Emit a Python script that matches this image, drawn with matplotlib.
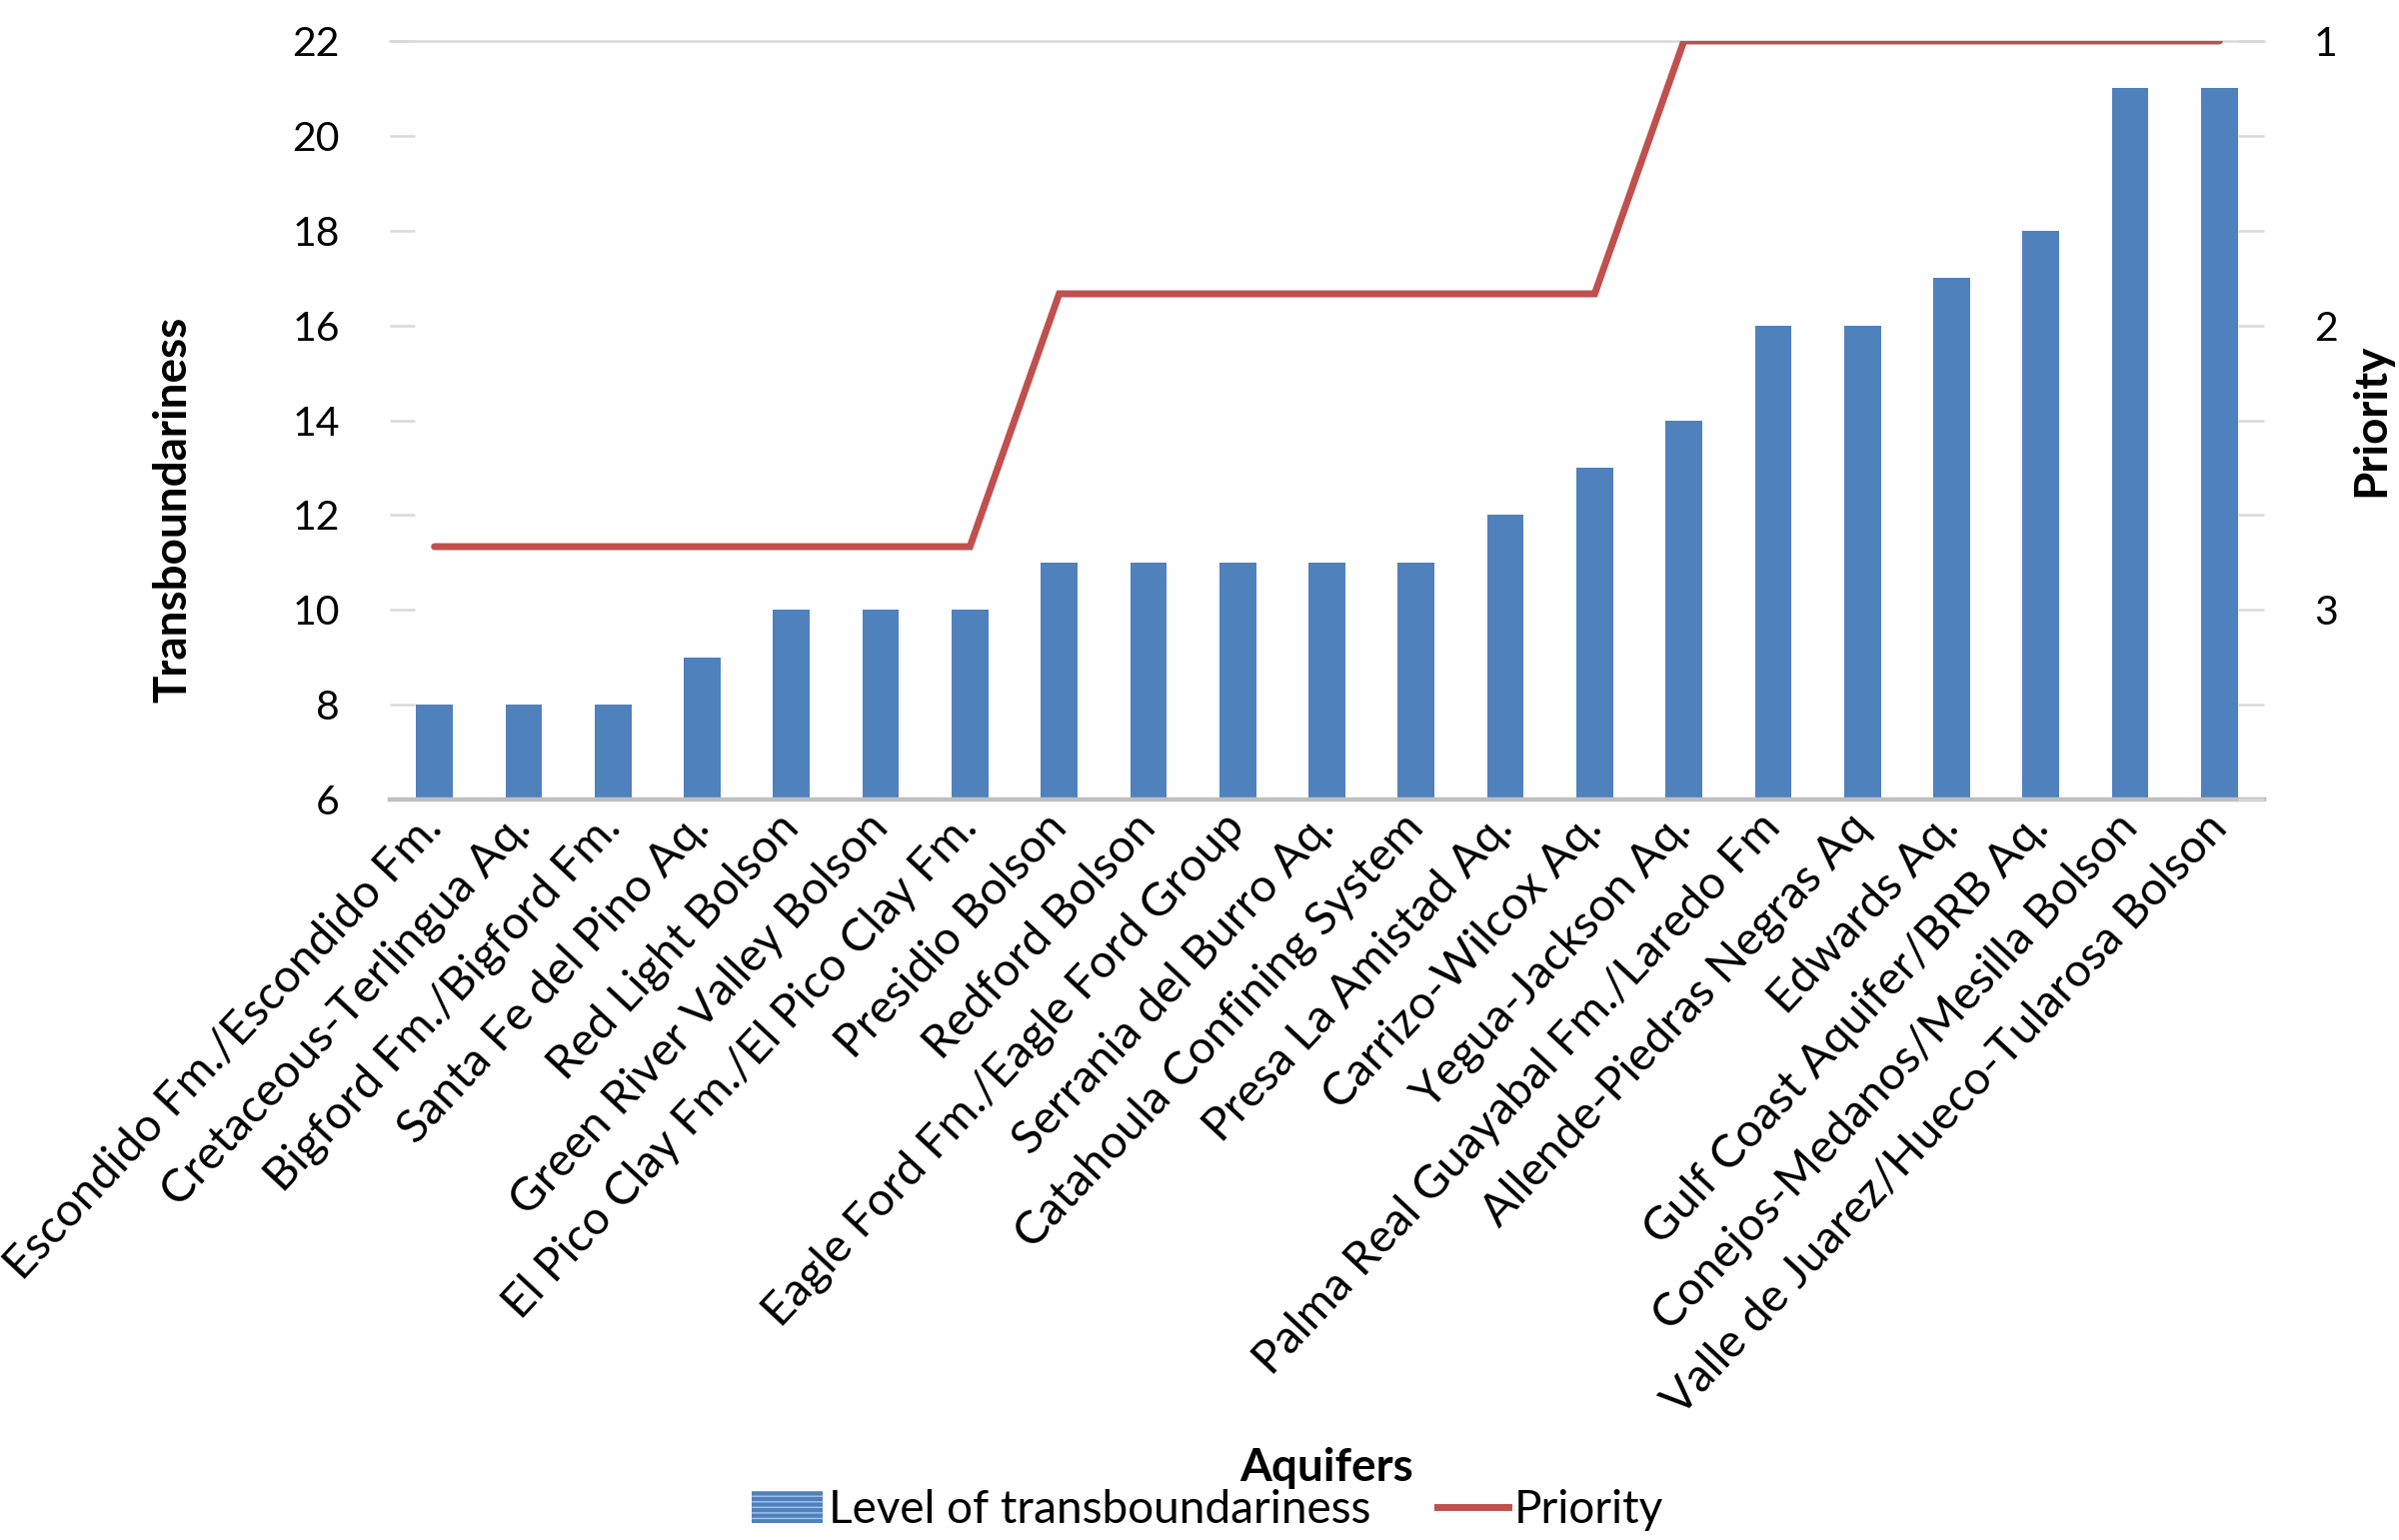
import matplotlib
matplotlib.use("Agg")
import matplotlib.pyplot as plt
from matplotlib.patches import Patch
from matplotlib.lines import Line2D

plt.rcParams['font.family'] = ['Lato', 'DejaVu Sans']

aquifers = [
    "Escondido Fm./Escondido Fm.",
    "Cretaceous-Terlingua Aq.",
    "Bigford Fm./Bigford Fm.",
    "Santa Fe del Pino Aq.",
    "Red Light Bolson",
    "Green River Valley Bolson",
    "El Pico Clay Fm./El Pico Clay Fm.",
    "Presidio Bolson",
    "Redford Bolson",
    "Eagle Ford Fm./Eagle Ford Group",
    "Serrania del Burro Aq.",
    "Catahoula Confining System",
    "Presa La Amistad Aq.",
    "Carrizo-Wilcox Aq.",
    "Yegua-Jackson Aq.",
    "Palma Real Guayabal Fm./Laredo Fm",
    "Allende-Piedras Negras Aq",
    "Edwards Aq.",
    "Gulf Coast Aquifer/BRB Aq.",
    "Conejos-Medanos/Mesilla Bolson",
    "Valle de Juarez/Hueco-Tularosa Bolson",
]
transboundariness = [8, 8, 8, 9, 10, 10, 10, 11, 11, 11, 11, 11, 12, 13, 14, 16, 16, 17, 18, 21, 21]
priority = [3, 3, 3, 3, 3, 3, 3, 2, 2, 2, 2, 2, 2, 2, 1, 1, 1, 1, 1, 1, 1]

left_ticks = [6, 8, 10, 12, 14, 16, 18, 20, 22]
right_ticks = [1.0, 1.375, 1.75, 2.125, 2.5, 2.875, 3.25, 3.625, 4.0]
right_labels = ["1", "", "", "2", "", "", "3", "", ""]

BAR = "#4F81BD"
RED = "#C0504D"
GRID = "#D9D9D9"
FS = 29.5
FS_CAT = 33.5
FS_TITLE = 33

W, H = 2400, 1541
fig = plt.figure(figsize=(W / 100, H / 100), dpi=100)
ax = fig.add_axes([390 / W, 1 - 800 / H, (2265 - 390) / W, (800 - 41) / H])

x = list(range(len(aquifers)))
ax.bar(x, transboundariness, width=0.41, bottom=0, color=BAR, zorder=2)
ax.set_ylim(6, 22)
ax.set_xlim(-0.5, len(aquifers) - 0.5)
ax.set_yticks(left_ticks)
ax.set_yticklabels([str(t) for t in left_ticks], fontsize=FS)
ax.tick_params(axis='y', direction='in', length=18, width=1.8, color=GRID, pad=36)
ax.set_xticks(x)
ax.set_xticklabels(aquifers, rotation=47, ha='right', va='center',
                   rotation_mode='anchor', fontsize=FS_CAT)
ax.tick_params(axis='x', length=0, pad=15)
for s in ['left', 'right']:
    ax.spines[s].set_visible(False)
ax.spines['top'].set_color(GRID)
ax.spines['top'].set_linewidth(1.8)
ax.spines['bottom'].set_color('#BFBFBF')
ax.spines['bottom'].set_linewidth(3.2)

ax2 = ax.twinx()
ax2.plot(x, priority, color=RED, linewidth=5, solid_capstyle='round',
         solid_joinstyle='miter', zorder=3)
ax2.set_ylim(4.0, 1.0)
ax2.set_yticks(right_ticks)
ax2.set_yticklabels(right_labels, fontsize=FS)
ax2.tick_params(axis='y', direction='in', length=19, width=1.8, color=GRID, pad=36)
for s in ['left', 'right', 'top', 'bottom']:
    ax2.spines[s].set_visible(False)

fig.text(173 / W, 1 - 510 / H, "Transboundariness", rotation=90, ha='center',
         va='center', fontsize=FS_TITLE, fontweight='bold')
fig.text(2372 / W, 1 - 420 / H, "Priority", rotation=90, ha='center',
         va='center', fontsize=FS_TITLE, fontweight='bold')
fig.text(1327 / W, 1 - 1469 / H, "Aquifers", ha='center', va='center',
         fontsize=FS_TITLE, fontweight='bold')

handles = [Patch(facecolor=BAR, edgecolor='#A9C4E8', hatch='---', linewidth=0),
           Line2D([0], [0], color=RED, linewidth=5)]
fig.legend(handles, ["Level of transboundariness", "Priority"],
           loc='center', bbox_to_anchor=(1208 / W, 1 - 1511 / H), ncol=2,
           frameon=False, fontsize=FS_TITLE, handlelength=1.55, handletextpad=0.12,
           columnspacing=1.45, borderaxespad=0)

fig.savefig("out.png", dpi=100, facecolor='white')
